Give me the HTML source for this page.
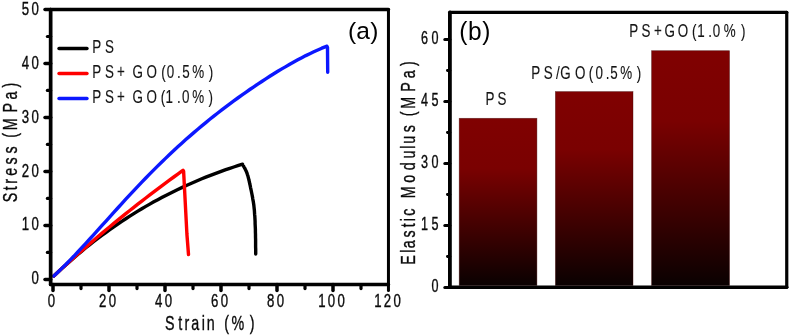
<!DOCTYPE html>
<html><head><meta charset="utf-8"><title>Stress-strain and elastic modulus</title>
<style>
html,body{margin:0;padding:0;background:#fff;}
body{width:790px;height:336px;overflow:hidden;}
svg{display:block;will-change:transform;opacity:0.999;}
text{font-family:"Liberation Sans",sans-serif;fill:#0a0a0a;stroke:#0a0a0a;stroke-width:0.3px;}
.tk{font-size:15px;letter-spacing:2.7px;}
.lg{font-size:15.4px;letter-spacing:3.3px;stroke-width:0.12px;fill:#141414;stroke:#141414;}
.ti{font-size:16.8px;letter-spacing:3.8px;}
.pl{font-size:24.5px;letter-spacing:0.6px;fill:#000;stroke:none;}
</style></head><body>
<svg width="790" height="336" viewBox="0 0 790 336">
<defs><linearGradient id="bg" x1="0" y1="0" x2="0" y2="1"><stop offset="0" stop-color="#800000"/><stop offset="0.3" stop-color="#7a0000"/><stop offset="1" stop-color="#0a0000"/></linearGradient></defs>
<rect width="790" height="336" fill="#fff"/>
<line x1="45" x2="50.65" y1="279.40" y2="279.40" stroke="#000" stroke-width="3.5" stroke-linecap="round"/>
<line x1="45" x2="50.65" y1="225.42" y2="225.42" stroke="#000" stroke-width="3.5" stroke-linecap="round"/>
<line x1="45" x2="50.65" y1="171.44" y2="171.44" stroke="#000" stroke-width="3.5" stroke-linecap="round"/>
<line x1="45" x2="50.65" y1="117.46" y2="117.46" stroke="#000" stroke-width="3.5" stroke-linecap="round"/>
<line x1="45" x2="50.65" y1="63.48" y2="63.48" stroke="#000" stroke-width="3.5" stroke-linecap="round"/>
<line x1="45" x2="50.65" y1="9.50" y2="9.50" stroke="#000" stroke-width="3.5" stroke-linecap="round"/>
<line x1="47.4" x2="50.65" y1="252.41" y2="252.41" stroke="#000" stroke-width="3.2" stroke-linecap="round"/>
<line x1="47.4" x2="50.65" y1="198.43" y2="198.43" stroke="#000" stroke-width="3.2" stroke-linecap="round"/>
<line x1="47.4" x2="50.65" y1="144.45" y2="144.45" stroke="#000" stroke-width="3.2" stroke-linecap="round"/>
<line x1="47.4" x2="50.65" y1="90.47" y2="90.47" stroke="#000" stroke-width="3.2" stroke-linecap="round"/>
<line x1="47.4" x2="50.65" y1="36.49" y2="36.49" stroke="#000" stroke-width="3.2" stroke-linecap="round"/>
<line x1="53.00" x2="53.00" y1="284.5" y2="290.6" stroke="#000" stroke-width="3.5" stroke-linecap="round"/>
<line x1="109.00" x2="109.00" y1="284.5" y2="290.6" stroke="#000" stroke-width="3.5" stroke-linecap="round"/>
<line x1="165.00" x2="165.00" y1="284.5" y2="290.6" stroke="#000" stroke-width="3.5" stroke-linecap="round"/>
<line x1="221.00" x2="221.00" y1="284.5" y2="290.6" stroke="#000" stroke-width="3.5" stroke-linecap="round"/>
<line x1="277.00" x2="277.00" y1="284.5" y2="290.6" stroke="#000" stroke-width="3.5" stroke-linecap="round"/>
<line x1="333.00" x2="333.00" y1="284.5" y2="290.6" stroke="#000" stroke-width="3.5" stroke-linecap="round"/>
<line x1="388.45" x2="388.45" y1="284.5" y2="290.6" stroke="#000" stroke-width="3.0" stroke-linecap="round"/>
<line x1="81.00" x2="81.00" y1="284.5" y2="288.6" stroke="#000" stroke-width="3.2" stroke-linecap="round"/>
<line x1="137.00" x2="137.00" y1="284.5" y2="288.6" stroke="#000" stroke-width="3.2" stroke-linecap="round"/>
<line x1="193.00" x2="193.00" y1="284.5" y2="288.6" stroke="#000" stroke-width="3.2" stroke-linecap="round"/>
<line x1="249.00" x2="249.00" y1="284.5" y2="288.6" stroke="#000" stroke-width="3.2" stroke-linecap="round"/>
<line x1="305.00" x2="305.00" y1="284.5" y2="288.6" stroke="#000" stroke-width="3.2" stroke-linecap="round"/>
<line x1="361.00" x2="361.00" y1="284.5" y2="288.6" stroke="#000" stroke-width="3.2" stroke-linecap="round"/>
<path d="M53.8,276.0 L57.8,272.2 L61.8,268.5 L65.8,264.9 L69.8,261.4 L73.8,257.9 L77.8,254.5 L81.8,251.1 L85.8,247.8 L89.8,244.6 L93.8,241.5 L97.8,238.4 L101.8,235.4 L105.8,232.5 L109.8,229.6 L113.8,226.8 L117.8,224.0 L121.8,221.3 L125.8,218.7 L129.8,216.1 L133.8,213.6 L137.8,211.1 L141.8,208.7 L145.8,206.4 L149.8,204.1 L153.8,201.8 L157.8,199.7 L161.8,197.5 L165.8,195.4 L169.8,193.4 L173.8,191.4 L177.8,189.5 L181.8,187.6 L185.8,185.7 L189.8,184.0 L193.8,182.2 L197.8,180.5 L201.8,178.8 L205.8,177.2 L209.8,175.6 L213.8,174.1 L217.8,172.6 L221.8,171.1 L225.8,169.7 L229.8,168.3 L233.8,167.0 L237.8,165.7 L241.8,164.4 L242.5,164.2 L242.7,164.7 L242.9,165.1 L243.2,165.6 L243.6,166.2 L243.9,166.8 L244.3,167.5 L244.7,168.2 L245.1,168.9 L245.5,169.7 L245.8,170.5 L246.2,171.2 L246.5,172.0 L246.8,172.7 L247.0,173.4 L247.3,174.1 L247.5,174.8 L247.8,175.6 L248.0,176.3 L248.2,177.1 L248.4,178.0 L248.7,179.0 L248.9,180.0 L249.2,181.2 L249.5,182.5 L249.8,184.0 L250.2,185.6 L250.5,187.3 L250.9,189.1 L251.3,191.0 L251.7,193.0 L252.1,195.0 L252.5,197.1 L252.8,199.1 L253.2,201.1 L253.5,203.1 L253.8,205.0 L254.0,206.9 L254.2,208.7 L254.4,210.5 L254.5,212.4 L254.6,214.2 L254.8,216.0 L254.9,217.8 L255.0,219.7 L255.1,221.6 L255.1,223.5 L255.2,225.5 L255.3,227.5 L255.4,229.7 L255.4,232.0 L255.5,234.5 L255.5,237.0 L255.6,239.6 L255.6,242.2 L255.6,244.6 L255.6,247.0 L255.7,249.1 L255.7,251.1 L255.7,252.7 L255.7,254.0" fill="none" stroke="#000" stroke-width="3.4" stroke-linejoin="round" stroke-linecap="round"/>
<path d="M53.8,276.0 L57.8,272.2 L61.8,268.6 L65.8,264.9 L69.8,261.3 L73.8,257.7 L77.8,254.1 L81.8,250.6 L85.8,247.1 L89.8,243.6 L93.8,240.2 L97.8,236.8 L101.8,233.4 L105.8,230.0 L109.8,226.7 L113.8,223.4 L117.8,220.1 L121.8,216.9 L125.8,213.7 L129.8,210.5 L133.8,207.3 L137.8,204.2 L141.8,201.1 L145.8,198.0 L149.8,194.9 L153.8,191.8 L157.8,188.8 L161.8,185.8 L165.8,182.9 L169.8,179.9 L173.8,177.0 L177.8,174.1 L181.8,171.2 L183.0,170.3 L183.6,171.2 L186.9,234.0 L188.5,254.5" fill="none" stroke="#ff0000" stroke-width="3.4" stroke-linejoin="round" stroke-linecap="round"/>
<path d="M53.8,276.0 L57.8,272.3 L61.8,268.4 L65.8,264.5 L69.8,260.4 L73.8,256.3 L77.8,252.0 L81.8,247.7 L85.8,243.4 L89.8,239.0 L93.8,234.6 L97.8,230.2 L101.8,225.7 L105.8,221.3 L109.8,216.8 L113.8,212.4 L117.8,208.0 L121.8,203.6 L125.8,199.2 L129.8,194.9 L133.8,190.6 L137.8,186.4 L141.8,182.2 L145.8,178.0 L149.8,173.9 L153.8,169.9 L157.8,165.9 L161.8,162.0 L165.8,158.1 L169.8,154.3 L173.8,150.5 L177.8,146.8 L181.8,143.2 L185.8,139.6 L189.8,136.1 L193.8,132.6 L197.8,129.2 L201.8,125.9 L205.8,122.6 L209.8,119.3 L213.8,116.1 L217.8,113.0 L221.8,109.9 L225.8,106.8 L229.8,103.8 L233.8,100.9 L237.8,98.0 L241.8,95.1 L245.8,92.3 L249.8,89.5 L253.8,86.8 L257.8,84.1 L261.8,81.5 L265.8,78.9 L269.8,76.3 L273.8,73.8 L277.8,71.3 L281.8,68.9 L285.8,66.6 L289.8,64.2 L293.8,62.0 L297.8,59.8 L301.8,57.7 L305.8,55.6 L309.8,53.7 L313.8,51.8 L317.8,50.0 L321.8,48.2 L325.8,46.6 L326.9,46.2 L327.5,47.5 L327.7,72.3" fill="none" stroke="#0c18ff" stroke-width="3.4" stroke-linejoin="round" stroke-linecap="round"/>
<g stroke="#000" stroke-linecap="round" fill="none"><line x1="50.65" y1="9.5" x2="50.65" y2="284.5" stroke-width="3.7"/><line x1="388.45" y1="9.5" x2="388.45" y2="284.5" stroke-width="3.0"/><line x1="50.65" y1="9.5" x2="388.45" y2="9.5" stroke-width="3.4"/><line x1="50.65" y1="284.5" x2="388.45" y2="284.5" stroke-width="3.4"/></g>
<text class="tk" transform="translate(41.275999999999996,284.2) scale(0.88,1.27)" text-anchor="end">0</text>
<text class="tk" transform="translate(41.275999999999996,230.39999999999998) scale(0.88,1.27)" text-anchor="end">10</text>
<text class="tk" transform="translate(41.275999999999996,176.6) scale(0.88,1.27)" text-anchor="end">20</text>
<text class="tk" transform="translate(41.275999999999996,122.79999999999997) scale(0.88,1.27)" text-anchor="end">30</text>
<text class="tk" transform="translate(41.275999999999996,68.99999999999999) scale(0.88,1.27)" text-anchor="end">40</text>
<text class="tk" transform="translate(41.275999999999996,15.199999999999978) scale(0.88,1.27)" text-anchor="end">50</text>
<text class="tk" transform="translate(52.7,306.5) scale(0.88,1.27)" text-anchor="middle">0</text>
<text class="tk" transform="translate(108.7,306.5) scale(0.88,1.27)" text-anchor="middle">20</text>
<text class="tk" transform="translate(164.7,306.5) scale(0.88,1.27)" text-anchor="middle">40</text>
<text class="tk" transform="translate(220.7,306.5) scale(0.88,1.27)" text-anchor="middle">60</text>
<text class="tk" transform="translate(276.7,306.5) scale(0.88,1.27)" text-anchor="middle">80</text>
<text class="tk" transform="translate(332.7,306.5) scale(0.88,1.27)" text-anchor="middle">100</text>
<text class="tk" transform="translate(388.7,306.5) scale(0.88,1.27)" text-anchor="middle">120</text>
<text class="ti" transform="translate(17.2,203) rotate(-90) scale(0.85,1.22)" text-anchor="start" dx="0.76 -0.76 -0.94 0.12 0.00 0.71 -1.06 -1.06 -0.35 3.06 0.06 1.24">Stress (MPa)</text>
<text class="ti" transform="translate(164,329.9) scale(0.85,1.22)" text-anchor="start" dx="1.29 0.59 -1.35 -1.47 -0.76 -1.47 -0.59 -0.65 -0.88 2.82">Strain (%)</text>
<line x1="59" x2="87" y1="48.5" y2="48.5" stroke="#000" stroke-width="3.4" stroke-linecap="round"/>
<text class="lg" transform="translate(91.8,53.1) scale(0.87,1.17)" text-anchor="start" dx="0.46 1.03">PS</text>
<line x1="59" x2="87" y1="73.5" y2="73.5" stroke="#ff0000" stroke-width="3.4" stroke-linecap="round"/>
<text class="lg" transform="translate(91.8,78.1) scale(0.87,1.17)" text-anchor="start" dx="0.46 1.03 0.46 -0.80 -1.38 0.80 1.72 -2.07 -0.23 -1.49 -0.46 2.18">PS+ GO(0.5%)</text>
<line x1="59" x2="87" y1="98.5" y2="98.5" stroke="#0c18ff" stroke-width="3.4" stroke-linecap="round"/>
<text class="lg" transform="translate(91.8,103.1) scale(0.87,1.17)" text-anchor="start" dx="0.46 1.03 0.46 -0.80 -1.38 0.80 1.15 -2.87 1.38 -1.95 0.00 1.72">PS+ GO(1.0%)</text>
<text class="pl" transform="translate(348.0,39.1) scale(1,1.0)" text-anchor="start" style="letter-spacing:0.2px">(a)</text>
<line x1="444.8" x2="449.9" y1="287.50" y2="287.50" stroke="#000" stroke-width="3" stroke-linecap="round"/>
<line x1="444.8" x2="449.9" y1="225.50" y2="225.50" stroke="#000" stroke-width="3" stroke-linecap="round"/>
<line x1="444.8" x2="449.9" y1="163.50" y2="163.50" stroke="#000" stroke-width="3" stroke-linecap="round"/>
<line x1="444.8" x2="449.9" y1="101.50" y2="101.50" stroke="#000" stroke-width="3" stroke-linecap="round"/>
<line x1="444.8" x2="449.9" y1="39.50" y2="39.50" stroke="#000" stroke-width="3" stroke-linecap="round"/>
<line x1="447.4" x2="449.9" y1="256.50" y2="256.50" stroke="#000" stroke-width="2.8" stroke-linecap="round"/>
<line x1="447.4" x2="449.9" y1="194.50" y2="194.50" stroke="#000" stroke-width="2.8" stroke-linecap="round"/>
<line x1="447.4" x2="449.9" y1="132.50" y2="132.50" stroke="#000" stroke-width="2.8" stroke-linecap="round"/>
<line x1="447.4" x2="449.9" y1="70.50" y2="70.50" stroke="#000" stroke-width="2.8" stroke-linecap="round"/>
<rect x="459.2" y="118.3" width="77.7" height="167.2" fill="url(#bg)" stroke="#3c0000" stroke-opacity="0.55" stroke-width="0.7"/>
<rect x="555.4" y="91.6" width="77.6" height="193.9" fill="url(#bg)" stroke="#3c0000" stroke-opacity="0.55" stroke-width="0.7"/>
<rect x="651.6" y="50.7" width="77.9" height="234.8" fill="url(#bg)" stroke="#3c0000" stroke-opacity="0.55" stroke-width="0.7"/>
<g stroke="#000" stroke-linecap="round" fill="none"><line x1="449.9" y1="12.4" x2="449.9" y2="287.15" stroke-width="3.8"/><line x1="786.75" y1="12.4" x2="786.75" y2="287.15" stroke-width="3.2"/><line x1="449.9" y1="12.4" x2="786.75" y2="12.4" stroke-width="3.3"/><line x1="449.9" y1="287.15" x2="786.75" y2="287.15" stroke-width="3.5"/></g>
<text class="tk" transform="translate(441.91999999999996,291.9) scale(0.88,1.27)" text-anchor="end" style="letter-spacing:4.0px;font-size:14.3px">0</text>
<text class="tk" transform="translate(441.91999999999996,229.9005) scale(0.88,1.27)" text-anchor="end" style="letter-spacing:4.0px;font-size:14.3px">15</text>
<text class="tk" transform="translate(441.91999999999996,167.90099999999998) scale(0.88,1.27)" text-anchor="end" style="letter-spacing:4.0px;font-size:14.3px">30</text>
<text class="tk" transform="translate(441.91999999999996,105.9015) scale(0.88,1.27)" text-anchor="end" style="letter-spacing:4.0px;font-size:14.3px">45</text>
<text class="tk" transform="translate(441.91999999999996,43.90199999999998) scale(0.88,1.27)" text-anchor="end" style="letter-spacing:4.0px;font-size:14.3px">60</text>
<text class="ti" transform="translate(415,265.0) rotate(-90) scale(0.85,1.22)" text-anchor="start" dx="0.29 -0.82 -2.35 -0.47 -0.24 -1.35 -1.12 0.00 0.00 0.53 1.53 0.65 -1.82 -1.47 0.29 -0.71 -1.00 -0.71 2.24 0.94 1.29">Elastic Modulus (MPa)</text>
<text class="lg" transform="translate(485.4,105) scale(0.87,1.17)" text-anchor="start" dx="0.00 0.46">PS</text>
<text class="lg" transform="translate(531,79.0) scale(0.87,1.17)" text-anchor="start" dx="0.34 0.69 0.57 -2.64 1.72 0.46 -0.57 -0.34 -2.41 -0.11 1.95">PS/GO(0.5%)</text>
<text class="lg" transform="translate(629.3,37.4) scale(0.87,1.17)" text-anchor="start" dx="0.00 0.57 0.80 -0.46 0.23 0.92 -2.30 0.80 -2.41 0.80 2.64">PS+GO(1.0%)</text>
<text class="pl" transform="translate(459.3,39.5) scale(1,1.04)" text-anchor="start">(b)</text>
</svg></body></html>
